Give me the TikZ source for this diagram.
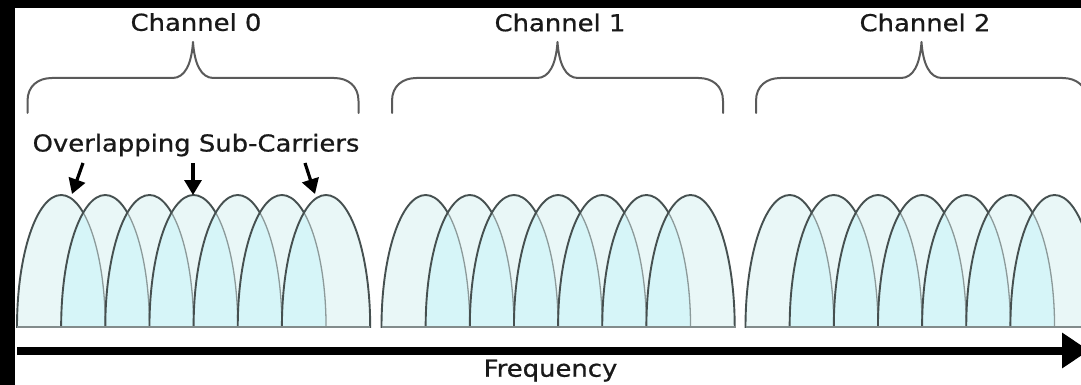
\documentclass[tikz,border=0pt]{standalone}
\usepackage{fontspec}
\newfontfamily\dv[FakeBold=0.7]{DejaVu Sans}
\usetikzlibrary{arrows.meta}
\definecolor{archlight}{RGB}{233,247,247}
\definecolor{archdark}{RGB}{214,245,248}
\definecolor{archline}{RGB}{70,80,80}
\definecolor{archthin}{RGB}{140,154,154}
\definecolor{basegray}{RGB}{130,140,140}
\definecolor{bracegray}{RGB}{90,90,90}
\definecolor{textgray}{RGB}{25,25,25}
\newcommand\archp{(0,327) .. controls (0,254.1) and (19.77,195) .. (44.15,195) .. controls (68.53,195) and (88.3,254.1) .. (88.3,327) -- cycle}
\begin{document}
\begin{tikzpicture}[x=1pt,y=-1pt,
  lbl/.style={font=\dv\fontsize{23.3}{28}\selectfont, text=textgray, inner sep=0pt, anchor=base, xscale=1.11},
  bracestyle/.style={draw=bracegray, line width=2pt, line cap=round, line join=round},
  pointer/.style={draw=black, line width=3.2pt, -{Triangle[width=17pt,length=15pt]}},
  axisarrow/.style={draw=black, line width=8pt, -{Triangle[width=34pt,length=27pt]}},
  archstroke/.style={draw=archline, line width=1.9pt},
  archthinstroke/.style={draw=archthin, line width=1.3pt}]
\useasboundingbox (0,0) rectangle (1081,385);
\clip (0,0) rectangle (1081,385);
\fill[black] (0,0) rectangle (1081,385);
\fill[white] (15,8.3) rectangle (1081,385);

% sub-carriers of the three channels
\foreach \X in {17,381.5,745.5}{
  \foreach \k in {0,...,6}{
    \pgfmathsetmacro\xc{\X+\k*44.15}
    \pgfmathsetmacro\xp{\X+(\k-1)*44.15}
    \fill[archlight, shift={(\xc,0)}] \archp;
    \ifnum\k>0
      \begin{scope}
        \clip[shift={(\xp,0)}] \archp;
        \fill[archdark, shift={(\xc,0)}] \archp;
      \end{scope}
      \begin{scope}
        \clip[shift={(\xc,0)}] \archp;
        \draw[archthinstroke, shift={(\xp,0)}] \archp;
      \end{scope}
    \fi
    \draw[archstroke, shift={(\xc,0)}] \archp;
  }
  \begin{scope}[shift={(\X,0)}]
    \draw[draw=basegray, line width=1.2pt] (0,327) -- (353.2,327);
    \draw[bracestyle] (10.5,113) -- (10.5,101) .. controls (10.5,86) and (21,78) .. (35,78)
      -- (155.5,78) .. controls (168,78) and (174.5,64) .. (176,42)
      .. controls (177.5,64) and (184,78) .. (196.5,78)
      -- (317,78) .. controls (331,78) and (341.5,86) .. (341.5,101) -- (341.5,113);
  \end{scope}
}

% labels
\node[lbl] (ch0) at (196,30.8) {Channel 0};
\node[lbl] (ch1) at (560,31.2) {Channel 1};
\node[lbl] (ch2) at (925,31.2) {Channel 2};
\node[lbl] (ov) at (196,151.5) {Overlapping Sub-Carriers};
\node[lbl] (freq) at (550.5,376.7) {Frequency};

% pointers to sub-carriers
\coordinate (p1s) at (83,163);  \coordinate (p1e) at (72,194);
\coordinate (p2s) at (193,163); \coordinate (p2e) at (193,195);
\coordinate (p3s) at (305,163); \coordinate (p3e) at (315,194);
\draw[pointer] (p1s) -- (p1e);
\draw[pointer] (p2s) -- (p2e);
\draw[pointer] (p3s) -- (p3e);

% frequency axis
\coordinate (fs) at (17,350.5);
\coordinate (fe) at (1089,350.5);
\draw[axisarrow] (fs) -- (fe);
\end{tikzpicture}
\end{document}
